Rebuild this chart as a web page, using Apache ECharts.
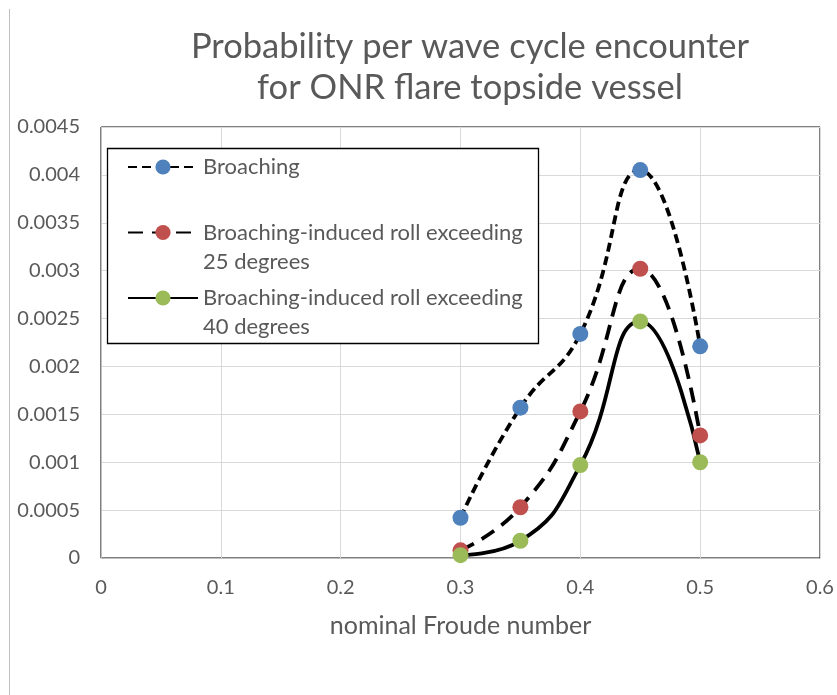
<!DOCTYPE html>
<html>
<head>
<meta charset="utf-8">
<script src="https://cdn.jsdelivr.net/npm/echarts@6/dist/echarts.min.js"></script>
<style>
  html, body { margin: 0; padding: 0; background: #fff; }
  #main { width: 837px; height: 695px; }
</style>
</head>
<body>
<div id="main"></div>
<script>
// data
var froude = [0.3, 0.35, 0.4, 0.45, 0.5];
var broaching = [0.00042, 0.00157, 0.00234, 0.00405, 0.00221];
var roll25 = [0.00008, 0.00053, 0.00153, 0.00302, 0.00128];
var roll40 = [0.00003, 0.00018, 0.00097, 0.00247, 0.00100];
var seriesNames = [
  'Broaching',
  'Broaching-induced roll exceeding\n25 degrees',
  'Broaching-induced roll exceeding\n40 degrees'
];

var textColor = '#595959';
var font = 'Lato';

function pairs(xs, ys) {
  return xs.map(function (x, i) { return [x, ys[i]]; });
}

var myChart = echarts.init(document.getElementById('main'));

var option = {
  animation: false,
  title: {
    text: 'Probability per wave cycle encounter\nfor ONR flare topside vessel',
    left: 470,
    top: 26,
    padding: 0,
    textAlign: 'center',
    textStyle: {
      color: textColor,
      fontFamily: font,
      fontSize: 34.5,
      fontWeight: 'normal',
      lineHeight: 41
    }
  },
  graphic: [
    { // left frame edge of the figure
      type: 'line',
      shape: { x1: 9.5, y1: 9, x2: 9.5, y2: 695 },
      style: { stroke: '#bfbfbf', lineWidth: 1 },
      z: 1
    },
    { // legend box
      type: 'rect',
      shape: { x: 107.5, y: 148.5, width: 431, height: 195 },
      style: { fill: '#fff', stroke: '#000', lineWidth: 1.3 },
      z: 3
    }
  ],
  legend: {
    orient: 'vertical',
    left: 127,
    top: 123.5,
    padding: 0,
    itemGap: -21.5,
    itemWidth: 70,
    itemHeight: 19,
    z: 5,
    // the blank lines keep each marker level with the first text line
    formatter: function (name) {
      if (name.indexOf('\n') < 0) return '\u00a0\n' + name + '\n\u00a0';
      return '\u00a0\n' + name;
    },
    textStyle: {
      color: textColor,
      fontFamily: font,
      fontSize: 22,
      lineHeight: 29
    },
    data: seriesNames
  },
  grid: {
    left: 101,
    right: 17,
    top: 127,
    bottom: 137,
    show: true,
    borderColor: '#000',
    borderWidth: 1
  },
  xAxis: {
    type: 'value',
    min: 0,
    max: 0.6,
    interval: 0.1,
    name: 'nominal Froude number',
    nameLocation: 'middle',
    nameGap: 55,
    nameTextStyle: { color: textColor, fontFamily: font, fontSize: 25 },
    axisLine: { lineStyle: { color: '#bfbfbf' } },
    axisTick: { show: false },
    axisLabel: { color: textColor, fontFamily: font, fontSize: 20, margin: 20 },
    splitLine: { lineStyle: { color: '#d9d9d9' } }
  },
  yAxis: {
    type: 'value',
    min: 0,
    max: 0.0045,
    interval: 0.0005,
    axisLine: { show: true, lineStyle: { color: '#bfbfbf' } },
    axisTick: { show: false },
    axisLabel: { color: textColor, fontFamily: font, fontSize: 20, margin: 21 },
    splitLine: { lineStyle: { color: '#d9d9d9' } }
  },
  series: [
    {
      name: seriesNames[0],
      type: 'line',
      smooth: 0.5,
      data: pairs(froude, broaching),
      symbol: 'circle',
      symbolSize: 16,
      itemStyle: { color: '#4F81BD' },
      lineStyle: { color: '#000', width: 3.8, type: [9, 5] },
      z: 2
    },
    {
      name: seriesNames[1],
      type: 'line',
      smooth: 0.5,
      data: pairs(froude, roll25),
      symbol: 'circle',
      symbolSize: 16,
      itemStyle: { color: '#C0504D' },
      lineStyle: { color: '#000', width: 3.8, type: [15, 9] },
      z: 2
    },
    {
      name: seriesNames[2],
      type: 'line',
      smooth: 0.5,
      data: pairs(froude, roll40),
      symbol: 'circle',
      symbolSize: 16,
      itemStyle: { color: '#9BBB59' },
      lineStyle: { color: '#000', width: 3.8, type: 'solid' },
      z: 2
    }
  ]
};

myChart.setOption(option);
</script>
</body>
</html>
